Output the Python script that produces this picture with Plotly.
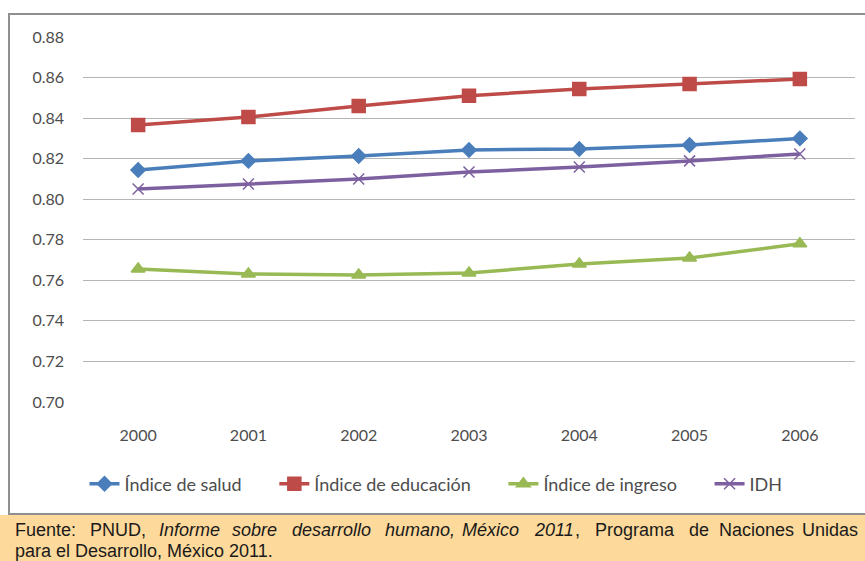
import plotly.graph_objects as go

# Series data
years = ["2000", "2001", "2002", "2003", "2004", "2005", "2006"]
salud = [0.8144, 0.8189, 0.8213, 0.8243, 0.8248, 0.8267, 0.8300]
educacion = [0.8366, 0.8405, 0.8460, 0.8510, 0.8544, 0.8568, 0.8593]
ingreso = [0.7656, 0.7631, 0.7626, 0.7636, 0.7681, 0.7710, 0.7780]
idh = [0.8050, 0.8075, 0.8100, 0.8134, 0.8159, 0.8189, 0.8223]

y_ticks = [0.70, 0.72, 0.74, 0.76, 0.78, 0.80, 0.82, 0.84, 0.86, 0.88]
y_ticktext = [f"{v:.2f}" for v in y_ticks]

W, H = 865, 561
L, R, T, B = 83, 10, 37, 159
PW, PH = W - L - R, H - T - B


def px_x(x):
    return (x - L) / PW


def px_y(y):
    return (H - B - y) / PH


FONT = "Lato"
TXT = "#4d4d4d"
PAD = "\u00a0" * 6  # extra room between legend entries

series = [
    ("Índice de salud" + PAD, salud, "#4A7EBB", "diamond", 11),
    ("Índice de educación" + PAD, educacion, "#BE4B48", "square", 13),
    ("Índice de ingreso" + PAD, ingreso, "#98B954", "triangle-up", 12),
    ("IDH", idh, "#7D60A0", "x-thin-open", 11),
]

fig = go.Figure()
for name, vals, color, sym, size in series:
    fig.add_trace(go.Scatter(
        x=years, y=vals, name=name, mode="lines+markers",
        line=dict(color=color, width=3.5),
        marker=dict(symbol=sym, size=size, color=color,
                    line=dict(color=color, width=1.5)),
    ))

shapes = [
    # outer chart frame
    dict(type="rect", xref="paper", yref="paper",
         x0=px_x(9), x1=px_x(W + 20), y0=px_y(514), y1=px_y(14),
         line=dict(color="#8f8f8f", width=2), fillcolor="white", layer="below"),
    # source band
    dict(type="rect", xref="paper", yref="paper",
         x0=px_x(0), x1=px_x(W), y0=px_y(H), y1=px_y(515),
         line=dict(width=0), fillcolor="#FDD99B", layer="below"),
]

FOOT = dict(family="Liberation Sans", size=18, color="#1a1a1a")
annotations = []
line1 = [
    ("Fuente:", 13, False), ("PNUD,", 88, False), ("Informe", 157, True),
    ("sobre", 230, True), ("desarrollo", 290, True), ("humano,", 383, True),
    ("México", 460, True), ("2011", 532, True), (",", 573, False),
    ("Programa", 593, False), ("de", 687, False), ("Naciones", 717, False),
    ("Unidas", 800, False),
]
for word, xp, ital in line1:
    annotations.append(dict(
        text=f"<i>{word}</i>" if ital else word, xref="paper", yref="paper",
        x=px_x(xp), y=px_y(530), xanchor="left", yanchor="middle",
        showarrow=False, font=FOOT,
    ))
annotations.append(dict(
    text="para el Desarrollo, México 2011.", xref="paper", yref="paper",
    x=px_x(13), y=px_y(551), xanchor="left", yanchor="middle",
    showarrow=False, font=FOOT,
))

fig.update_layout(
    width=W, height=H,
    margin=dict(l=L, r=R, t=T, b=B),
    paper_bgcolor="white", plot_bgcolor="rgba(0,0,0,0)",
    font=dict(family=FONT, size=16, color=TXT),
    showlegend=True,
    legend=dict(orientation="h", x=px_x(436), xanchor="center", y=px_y(484),
                yanchor="middle", font=dict(family=FONT, size=18, color=TXT),
                bgcolor="rgba(0,0,0,0)", itemwidth=30),
    shapes=shapes,
    annotations=annotations,
    xaxis=dict(type="category", range=[-0.5, 6.5], showgrid=False,
               showline=False, zeroline=False, ticks="",
               ticklabelstandoff=22, tickfont=dict(size=16, color=TXT)),
    yaxis=dict(range=[0.70, 0.88], tickvals=y_ticks, ticktext=y_ticktext,
               showgrid=True, gridcolor="#b5b5b5", gridwidth=1.2,
               zeroline=False, showline=False, ticks="",
               ticklabelstandoff=18, tickfont=dict(size=16, color=TXT)),
)

fig.write_html("out.html")
